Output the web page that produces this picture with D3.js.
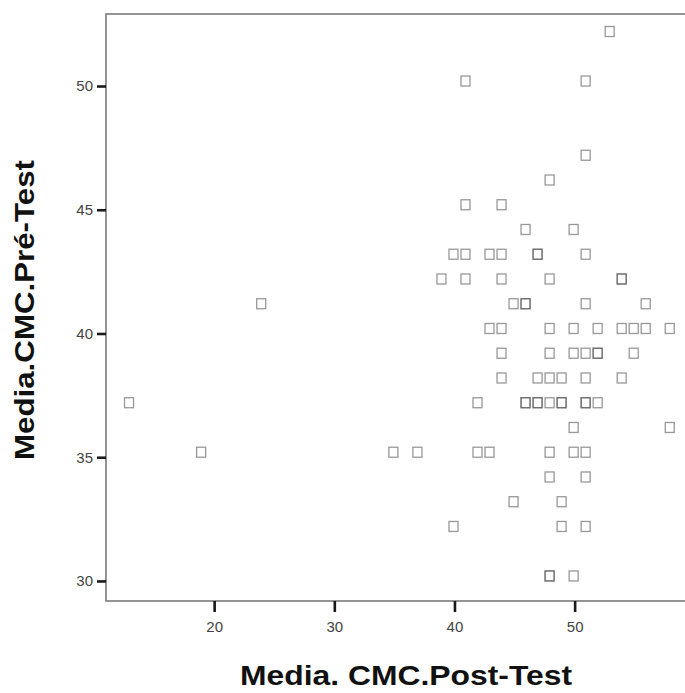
<!DOCTYPE html>
<html>
<head>
<meta charset="utf-8">
<script src="https://cdn.jsdelivr.net/npm/d3@7"></script>
<style>
  html, body { margin: 0; padding: 0; background: #fff; }
  svg { display: block; }
</style>
</head>
<body>
<div id="chart"></div>
<script>
// values (Post-Test on x, Pre-Test on y)
var postTest = [53, 41, 51, 51, 48, 41, 44, 46, 50,
  40, 41, 43, 44, 47, 47, 51,
  39, 41, 44, 48, 54, 54,
  24, 45, 46, 46, 51, 56,
  43, 44, 48, 50, 52, 54, 55, 56, 58,
  44, 48, 50, 51, 52, 52, 55,
  44, 47, 48, 49, 51, 54,
  13, 42, 46, 46, 47, 47, 48, 49, 49, 51, 51, 52,
  50, 58,
  19, 35, 37, 42, 43, 48, 50, 51,
  48, 51, 45, 49, 40, 49, 51, 48, 48, 50];
var preTest = [52, 50, 50, 47, 46, 45, 45, 44, 44,
  43, 43, 43, 43, 43, 43, 43,
  42, 42, 42, 42, 42, 42,
  41, 41, 41, 41, 41, 41,
  40, 40, 40, 40, 40, 40, 40, 40, 40,
  39, 39, 39, 39, 39, 39, 39,
  38, 38, 38, 38, 38, 38,
  37, 37, 37, 37, 37, 37, 37, 37, 37, 37, 37, 37,
  36, 36,
  35, 35, 35, 35, 35, 35, 35, 35,
  34, 34, 33, 33, 32, 32, 32, 30, 30, 30];
var xTicks = [20, 30, 40, 50];
var yTicks = [30, 35, 40, 45, 50];
var xTitle = "Media. CMC.Post-Test";
var yTitle = "Media.CMC.Pré-Test";

var width = 685, height = 693;
var plotLeft = 106, plotTop = 14, plotBottom = 601, plotRight = 702;

var svg = d3.select("#chart").append("svg")
  .attr("width", width).attr("height", height);

var x = d3.scaleLinear().domain([11, 60.6]).range([plotLeft, plotRight]);
var y = d3.scaleLinear().domain([29.19, 52.91]).range([plotBottom, plotTop]);

// frame
svg.append("rect")
  .attr("x", plotLeft).attr("y", plotTop)
  .attr("width", plotRight - plotLeft).attr("height", plotBottom - plotTop)
  .attr("fill", "none").attr("stroke", "#7a7a7a").attr("stroke-width", 1.6);

// axes
var xAxis = svg.append("g")
  .attr("transform", "translate(0," + plotBottom + ")")
  .call(d3.axisBottom(x).tickValues(xTicks).tickSizeInner(11).tickSizeOuter(0).tickPadding(9));
var yAxis = svg.append("g")
  .attr("transform", "translate(" + plotLeft + ",0)")
  .call(d3.axisLeft(y).tickValues(yTicks).tickSizeInner(9).tickSizeOuter(0).tickPadding(4));

[xAxis, yAxis].forEach(function (g) {
  g.select(".domain").remove();
  g.selectAll(".tick line").attr("stroke", "#1a1a1a").attr("stroke-width", 2.6);
  g.selectAll(".tick text")
    .attr("fill", "#444")
    .style("font-family", "'Liberation Sans', Arial, sans-serif")
    .style("font-size", "15px");
});

// points (SPSS draws its markers slightly up-left of the value)
svg.append("g")
  .attr("transform", "translate(-1,-5)")
  .selectAll("rect")
  .data(postTest.map(function (d, i) { return [d, preTest[i]]; }))
  .enter().append("rect")
  .attr("x", function (d) { return x(d[0]) - 4.5; })
  .attr("y", function (d) { return y(d[1]) - 5; })
  .attr("width", 9).attr("height", 10)
  .attr("fill", "none")
  .attr("stroke", "#444").attr("stroke-opacity", 0.55).attr("stroke-width", 1.3);

// titles
svg.append("text")
  .attr("x", 406).attr("y", 685)
  .attr("text-anchor", "middle")
  .attr("textLength", 332).attr("lengthAdjust", "spacingAndGlyphs")
  .style("font-family", "'Liberation Sans', Arial, sans-serif")
  .style("font-weight", "bold").style("font-size", "28px")
  .attr("fill", "#111")
  .text(xTitle);

svg.append("text")
  .attr("transform", "translate(34,310) rotate(-90)")
  .attr("text-anchor", "middle")
  .attr("textLength", 300).attr("lengthAdjust", "spacingAndGlyphs")
  .style("font-family", "'Liberation Sans', Arial, sans-serif")
  .style("font-weight", "bold").style("font-size", "27px")
  .attr("fill", "#111")
  .text(yTitle);
</script>
</body>
</html>
